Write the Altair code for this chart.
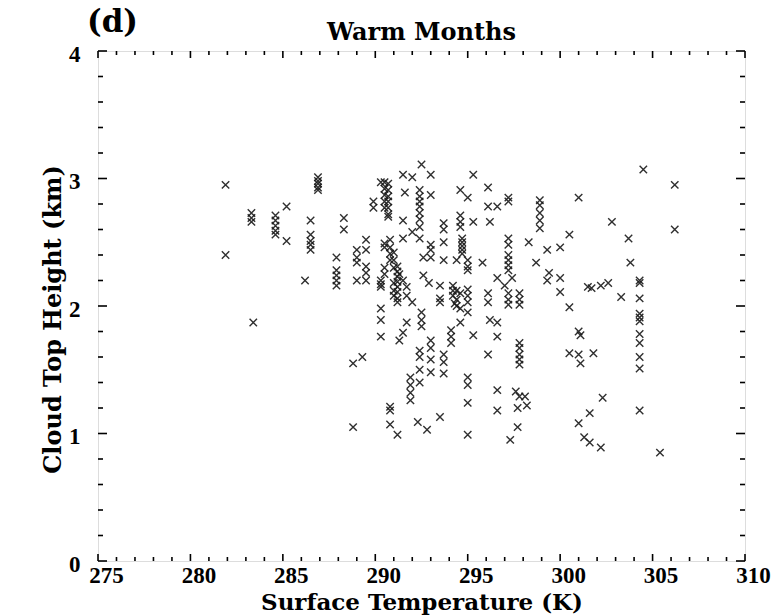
import altair as alt
import pandas as pd

# Surface temperature (K) columns and the cloud-top heights (km) read at each
col_temp = [
    281.9, 283.3, 283.4, 284.6, 285.2, 286.2, 286.5, 286.9, 287.9, 288.3, 288.8,
    289.0, 289.3, 289.5, 289.9, 290.3, 290.5, 290.7, 290.8, 291.0, 291.2, 291.3,
    291.5, 291.6, 291.7, 291.9, 292.0,
    292.3, 292.4, 292.5, 292.6, 292.8, 292.9, 293.0, 293.5, 293.7, 294.1, 294.2,
    294.3, 294.4, 294.6, 294.7, 295.0, 295.3, 295.8,
    296.1, 296.2, 296.6, 297.0, 297.2, 297.3, 297.4, 297.6, 297.7, 297.8, 298.1,
    298.2, 298.3, 298.7, 298.9, 299.3, 299.4, 300.0, 300.5, 301.0, 301.1, 301.3,
    301.5, 301.6, 301.7, 301.8, 302.2, 302.3, 302.6, 302.8, 303.3, 303.7, 303.8,
    304.3, 304.5, 305.4, 306.2,
]
col_heights = [
    [2.95, 2.40], [2.73, 2.69, 2.66], [1.87], [2.71, 2.67, 2.63, 2.59, 2.56],
    [2.78, 2.51], [2.20], [2.67, 2.56, 2.51, 2.48, 2.44], [3.01, 2.98, 2.96, 2.93, 2.91],
    [2.38, 2.28, 2.24, 2.20, 2.16], [2.69, 2.60], [1.55, 1.05],
    [2.44, 2.38, 2.34, 2.20], [1.60], [2.52, 2.44, 2.31, 2.26, 2.20], [2.82, 2.77],
    [2.97, 2.20, 2.17, 2.15, 1.98, 1.89, 1.76],
    [2.97, 2.92, 2.87, 2.82, 2.77, 2.49, 2.46, 2.30, 2.25],
    [2.96, 2.91, 2.86, 2.82, 2.77, 2.72, 2.70], [2.52, 2.46, 2.41, 2.36, 1.21, 1.18, 1.07],
    [2.42, 2.36, 2.30, 2.18, 2.12, 2.08],
    [2.31, 2.27, 2.23, 2.19, 2.15, 2.11, 2.06, 2.03, 0.99],
    [1.73, 2.25], [3.03, 2.67, 2.53, 1.79, 2.20], [2.89], [1.87, 2.15, 2.08],
    [1.44, 1.38, 1.32, 1.26], [3.01, 2.58, 2.03],
    [1.09], [2.91, 2.86, 2.82, 2.78, 2.73, 2.68, 2.62, 2.53, 1.65, 1.60, 1.50, 1.40],
    [3.11, 1.95, 1.89, 1.84], [2.38, 2.24], [1.03], [2.18],
    [3.03, 2.87, 2.48, 2.44, 2.38, 1.73, 1.67, 1.58, 1.48], [2.16, 2.06, 2.03, 1.13],
    [2.65, 2.60, 2.50, 2.36, 1.62, 1.56, 1.47], [1.81, 1.76, 1.71], [2.16, 2.12, 2.08],
    [2.02], [2.36, 2.12, 2.05, 2.00], [2.91, 2.71, 2.66, 2.62, 2.10, 1.98, 1.87],
    [2.53, 2.50, 2.47, 2.44, 2.41],
    [2.85, 2.36, 2.31, 2.28, 2.13, 2.08, 2.03, 1.95, 1.44, 1.38, 1.24, 0.99],
    [3.03, 2.66, 1.77], [2.34],
    [2.93, 2.78, 2.10, 2.03, 1.62], [2.66, 1.89], [2.78, 2.22, 1.87, 1.76, 1.34, 1.18],
    [2.16], [2.85, 2.82, 2.53, 2.48, 2.40, 2.36, 2.32, 2.28, 2.10, 2.05, 2.01], [0.95],
    [2.22], [1.33], [1.20, 1.05], [2.10, 2.05, 2.01, 1.71, 1.67, 1.62, 1.58, 1.54, 1.29],
    [1.29], [1.22], [2.50], [2.34], [2.83, 2.79, 2.73, 2.67, 2.61], [2.44, 2.20], [2.26],
    [2.46, 2.22, 2.11], [2.56, 1.99, 1.63], [2.85, 1.80, 1.62, 1.08], [1.77, 1.55], [0.97],
    [2.15], [1.16, 0.93], [2.14], [1.63], [2.16, 0.89], [1.28], [2.18], [2.66], [2.07],
    [2.53], [2.34],
    [2.20, 2.18, 2.06, 1.94, 1.91, 1.88, 1.78, 1.71, 1.60, 1.51, 1.18], [3.07], [0.85],
    [2.95, 2.60],
]

x_label_values = [275, 280, 285, 290, 295, 300, 305, 310]
y_label_values = [0, 1, 2, 3, 4]
x_tick_values = list(range(275, 311))
y_tick_values = [round(i * 0.2, 1) for i in range(21)]
panel_text = ["(d)"]
title_text = ["Warm Months"]

rows = [{"v": t, "h": h} for t, hs in zip(col_temp, col_heights) for h in hs]
pts = pd.DataFrame(rows)

W, H = 647, 510
FONT = "DejaVu Serif"
LFONT = "Liberation Serif"
xs = alt.Scale(domain=[275, 310], nice=False, zero=False)
ys = alt.Scale(domain=[0, 4], nice=False, zero=False)

X_TITLE = "Surface Temperature (K)"
Y_TITLE = "Cloud Top Height (km)"
xaxis = alt.Axis(
    values=x_label_values, ticks=False, domain=False, grid=False,
    labelFont=LFONT, labelFontSize=23, labelFontWeight="bold", labelOffset=8,
    labelPadding=3, labelColor="black", labelFlush=False, labelOverlap=False,
    title=X_TITLE, titleFont=FONT, titleFontSize=23, titleFontWeight="bold",
    titleColor="black", titleY=48, titleBaseline="alphabetic")
yaxis = alt.Axis(
    values=y_label_values, ticks=False, domain=False, grid=False,
    labelFont=LFONT, labelFontSize=23, labelFontWeight="bold", labelPadding=18,
    labelColor="black", labelFlush=False, labelOverlap=False, labelOffset=3,
    title=Y_TITLE, titleFont=FONT, titleFontSize=24, titleFontWeight="bold",
    titleColor="black", titleX=-38, titleY=268, titleBaseline="alphabetic")

xmaj = pd.DataFrame({"v": [v for v in x_tick_values if v % 5 == 0]})
xmin = pd.DataFrame({"v": [v for v in x_tick_values if v % 5 != 0]})
ymaj = pd.DataFrame({"h": [v for v in y_tick_values if abs(v - round(v)) < 1e-9]})
ymin = pd.DataFrame({"h": [v for v in y_tick_values if abs(v - round(v)) > 1e-9]})

points = alt.Chart(pts).mark_point(
    shape="M-1,-1L1,1M-1,1L1,-1", filled=False, size=55,
    strokeWidth=1.4, color="#1a1a1a", opacity=0.9,
).encode(
    x=alt.X("v:Q", scale=xs, axis=xaxis, title=X_TITLE),
    y=alt.Y("h:Q", scale=ys, axis=yaxis, title=Y_TITLE),
)

def xrule(df, y0, y1):
    return alt.Chart(df).mark_rule(color="black", strokeWidth=1.6).encode(
        x=alt.X("v:Q", scale=xs, axis=xaxis, title=X_TITLE),
        y=alt.value(y0), y2=alt.value(y1))

def yrule(df, x0, x1):
    return alt.Chart(df).mark_rule(color="black", strokeWidth=1.6).encode(
        y=alt.Y("h:Q", scale=ys, axis=yaxis, title=Y_TITLE),
        x=alt.value(x0), x2=alt.value(x1))

ticks = [
    xrule(xmaj, H, H - 7), xrule(xmin, H, H - 4),
    xrule(xmaj, 0, 7), xrule(xmin, 0, 4),
    yrule(ymaj, 0, 9), yrule(ymin, 0, 5),
    yrule(ymaj, W, W - 9), yrule(ymin, W, W - 5),
]

panel_label = alt.Chart(pd.DataFrame({"t": panel_text})).mark_text(
    font=FONT, fontSize=31, fontWeight="bold", align="left", baseline="middle",
    color="black",
).encode(text="t:N", x=alt.value(-11), y=alt.value(-28))

title_label = alt.Chart(pd.DataFrame({"t": title_text})).mark_text(
    font=FONT, fontSize=24, fontWeight="bold", align="center", baseline="alphabetic",
    color="black",
).encode(text="t:N", x=alt.value(W / 2), y=alt.value(-11))

chart = alt.layer(points, *ticks, panel_label, title_label).properties(
    width=W, height=H,
    autosize=alt.AutoSizeParams(type="none"),
    padding={"left": 98, "top": 51, "right": 32, "bottom": 54},
).configure_view(stroke="black", strokeWidth=2.5).configure(background="white")

chart.save("out.html", embed_options={"renderer": "svg", "actions": False})
